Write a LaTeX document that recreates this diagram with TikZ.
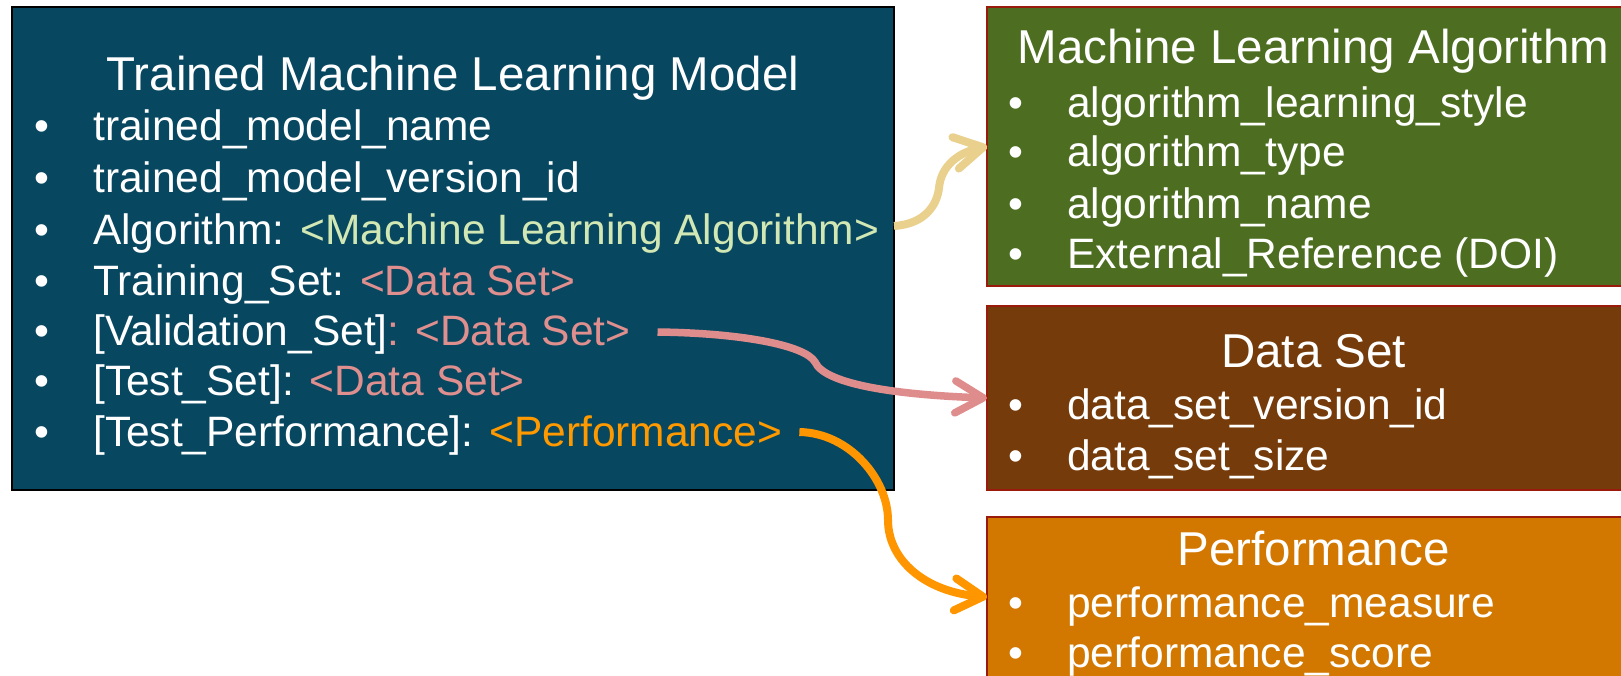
\documentclass[tikz,border=0pt]{standalone}
\usepackage{fontspec}
\setmainfont{Liberation Sans}
\usepackage{xcolor}
\usetikzlibrary{arrows.meta,positioning,calc}
\definecolor{modelblue}{HTML}{084760}
\definecolor{alggreen}{HTML}{4D6E21}
\definecolor{databrown}{HTML}{753B0A}
\definecolor{perforange}{HTML}{D27800}
\definecolor{edgered}{HTML}{9A1A0C}
\definecolor{refgreen}{HTML}{D2E8B4}
\definecolor{refpink}{HTML}{E08F8F}
\definecolor{reforange}{HTML}{FF9900}
\definecolor{arrowyellow}{HTML}{E9D08C}
\definecolor{arrowpink}{HTML}{DF8C8C}
\definecolor{arroworange}{HTML}{FF9600}
\newcommand{\bul}{\makebox[59pt][l]{\textbullet}}

\begin{document}
\begin{tikzpicture}[
  x=1pt, y=1pt,
  every node/.style={text=white},
  card/.style={
    draw=edgered,
    line width=2pt,
    minimum width=653pt,
    inner sep=0pt,
    outer sep=0pt,
    anchor=north west
  },
  modelcard/.style={card,draw=black,fill=modelblue,minimum width=882pt,minimum height=483pt},
  algcard/.style={card,fill=alggreen,minimum height=279pt},
  datacard/.style={card,fill=databrown,minimum height=184pt},
  perfcard/.style={card,fill=perforange,minimum height=160pt},
  heading/.style={font=\fontsize{47.5}{57}\selectfont,anchor=base,inner sep=0pt},
  entry/.style={font=\fontsize{42.5}{51}\selectfont,anchor=base west,inner sep=0pt},
  algflow/.style={-{Straight Barb[length=28pt,width=32pt,round]},draw=arrowyellow,line width=8pt},
  dataflow/.style={-{Straight Barb[length=28pt,width=32pt,round]},draw=arrowpink,line width=7.5pt},
  perfflow/.style={-{Straight Barb[length=28pt,width=32pt,round]},draw=arroworange,line width=8pt}
]
  \fill[white] (0,0) rectangle (1621,675);
  \useasboundingbox (0,0) rectangle (1621,675);
  \clip (0,0) rectangle (1621,675);

  % boxes
  \node[modelcard] (model) at (12,668) {};
  \node[algcard] (alg) at (987,668) {};
  \node[datacard,below=20pt of alg] (data) {};
  \node[perfcard,below=27pt of data] (perf) {};

  % trained model
  \node[heading] (modeltitle) at (453,584) {Trained Machine Learning Model};
  \node[entry] (m1) at (34,534) {\bul trained\_model\_name};
  \node[entry] (m2) at (34,482) {\bul trained\_model\_version\_id};
  \node[entry] (m3) at (34,430) {\bul Algorithm: \textcolor{refgreen}{<Machine Learning Algorithm>}};
  \node[entry] (m4) at (34,379) {\bul Training\_Set: \textcolor{refpink}{<Data Set>}};
  \node[entry] (m5) at (34,329) {\bul [Validation\_Set]\textcolor{refpink}{: <Data Set>}};
  \node[entry] (m6) at (34,279) {\bul [Test\_Set]: \textcolor{refpink}{<Data Set>}};
  \node[entry] (m7) at (34,229) {\bul [Test\_Performance]: \textcolor{reforange}{<Performance>}};

  % algorithm
  \node[heading] (algtitle) at (1313.5,611) {Machine Learning Algorithm};
  \node[entry] (a1) at (1008,557) {\bul algorithm\_learning\_style};
  \node[entry] (a2) at (1008,508) {\bul algorithm\_type};
  \node[entry] (a3) at (1008,456) {\bul algorithm\_name};
  \node[entry] (a4) at (1008,406) {\bul External\_Reference (DOI)};

  % data set
  \node[heading] (datatitle) at (1313.5,307) {Data Set};
  \node[entry] (d1) at (1008,255) {\bul data\_set\_version\_id};
  \node[entry] (d2) at (1008,205) {\bul data\_set\_size};

  % performance
  \node[heading] (perftitle) at (1313.5,110) {Performance};
  \node[entry] (p1) at (1008,58) {\bul performance\_measure};
  \node[entry] (p2) at (1008,8) {\bul performance\_score};

  % links
  \coordinate (algout) at ($(model.east |- m3.base)+(0,19)$);
  \coordinate (valout) at ($(m5.east)+(27,3)$);
  \coordinate (perfout) at ($(m7.east)+(17,3)$);
  \draw[algflow] (algout) .. controls (925,451) and (937,470) .. (939,487)
    .. controls (941,510) and (960,523) .. (alg.west);
  \draw[dataflow] (valout) .. controls (740,342) and (805,330) .. (815,313)
    .. controls (825,290) and (900,280) .. (data.west);
  \draw[perfflow] (perfout) .. controls (850,242) and (888,195) .. (888,155)
    .. controls (888,115) and (925,83) .. (perf.west);
\end{tikzpicture}
\end{document}
